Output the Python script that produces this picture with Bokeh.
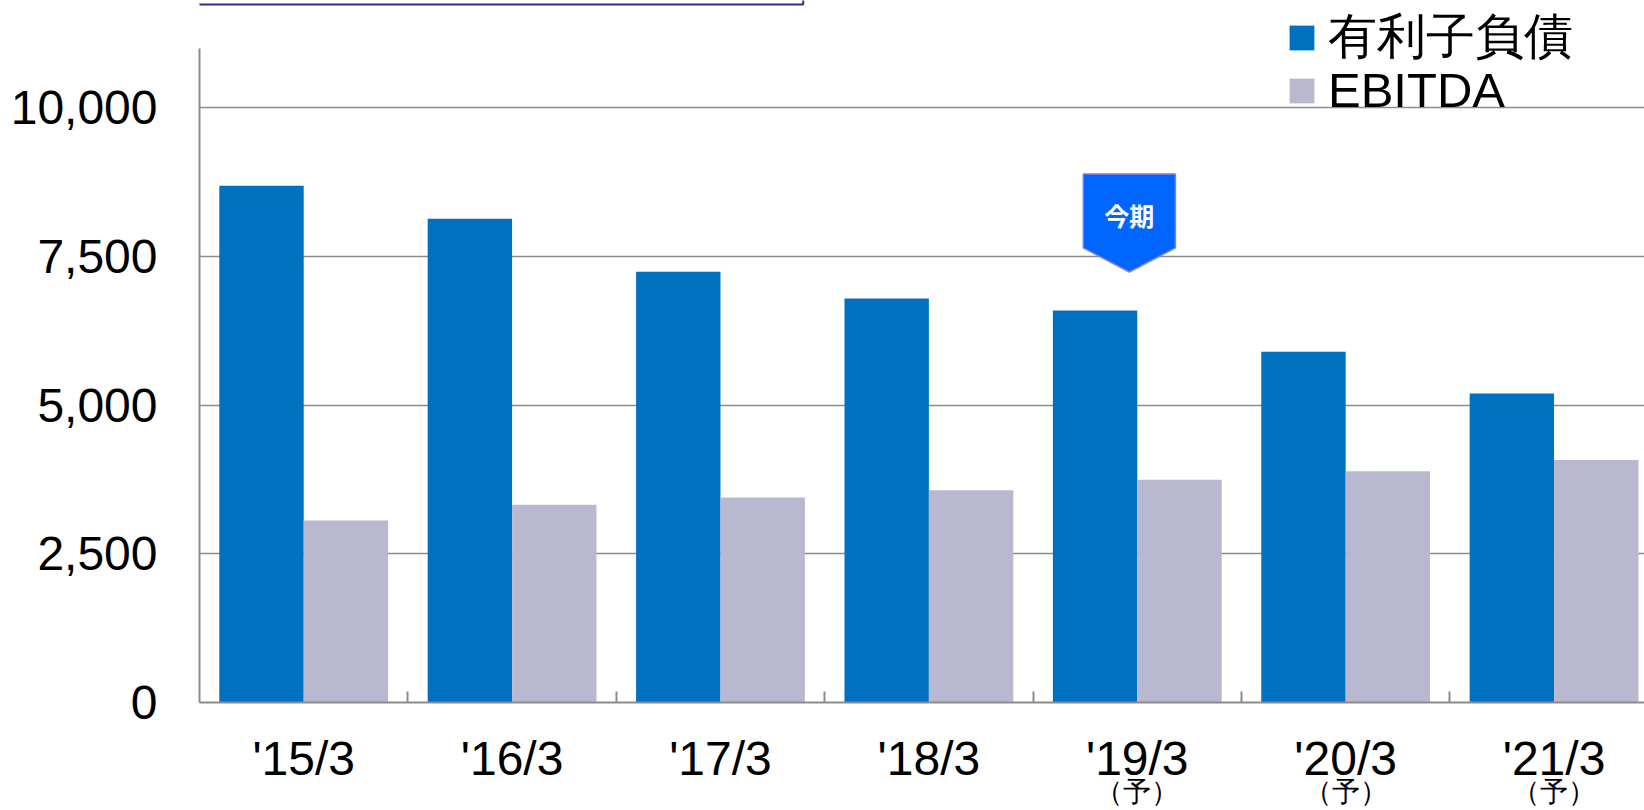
from bokeh.plotting import figure
from bokeh.models import (ColumnDataSource, Range1d, FixedTicker, NumeralTickFormatter,
                          Legend, LegendItem, Label, LinearAxis)
from bokeh.transform import dodge
from bokeh.embed import file_html
from bokeh.resources import INLINE

# ---- data ----
categories = ["'15/3", "'16/3", "'17/3", "'18/3", "'19/3", "'20/3", "'21/3"]
forecast_notes = ["", "", "", "", "（予）", "（予）", "（予）"]
debt = [8690, 8135, 7245, 6795, 6595, 5900, 5195]
ebitda = [3060, 3325, 3450, 3570, 3745, 3890, 4080]
series_names = ["有利子負債", "EBITDA"]
y_ticks = [0, 2500, 5000, 7500, 10000]
current_period = "'19/3"
current_label = "今期"

BLUE = "#0070C0"
GRAY = "#B8B8D0"
GRID = "#8C8C8C"
FONT = "Liberation Sans"

idx = list(range(len(categories)))
src = ColumnDataSource(dict(x=idx, cat=categories, debt=debt, ebitda=ebitda))

AXIS_TOP = 11000          # where the value axis line ends
Y_END = 11807             # frame reaches the top edge (room for the legend)

p = figure(width=1644, height=810, output_backend="svg", toolbar_location=None,
           x_range=Range1d(-0.5, 6.434), y_range=Range1d(0, Y_END),
           min_border_left=199, min_border_top=0, min_border_bottom=108,
           min_border_right=0)
p.outline_line_color = None
p.background_fill_color = "white"

bw = 0.405
r_debt = p.vbar(x=dodge("x", -bw / 2), top="debt", width=bw, source=src,
                fill_color=BLUE, line_color=None)
r_ebitda = p.vbar(x=dodge("x", bw / 2), top="ebitda", width=bw, source=src,
                  fill_color=GRAY, line_color=None)

# category axis
cat_ticker = FixedTicker(ticks=idx, minor_ticks=[i + 0.5 for i in idx])
p.xaxis.ticker = cat_ticker
p.xaxis.major_label_overrides = {i: c for i, c in zip(idx, categories)}
p.xaxis.major_tick_in = 0
p.xaxis.major_tick_out = 0
p.xaxis.minor_tick_in = 11
p.xaxis.minor_tick_out = 0
p.xaxis.minor_tick_line_color = GRID
p.xaxis.minor_tick_line_width = 2
p.xaxis.major_label_standoff = 29
p.xaxis.major_label_text_font = FONT
p.xaxis.major_label_text_font_size = "48px"
p.xaxis.major_label_text_color = "black"
p.xaxis.axis_line_color = GRID
p.xaxis.axis_line_width = 2

# second row of category labels: forecast notes
note_axis = LinearAxis(ticker=FixedTicker(ticks=idx),
                       major_label_overrides={i: n for i, n in zip(idx, forecast_notes)},
                       axis_line_color=None, major_tick_line_color=None,
                       minor_tick_line_color=None, major_label_standoff=-18,
                       major_label_text_font=FONT, major_label_text_font_size="28px",
                       major_label_text_color="black")
p.add_layout(note_axis, "below")

# value axis
p.yaxis.ticker = FixedTicker(ticks=y_ticks)
p.yaxis.formatter = NumeralTickFormatter(format="0,0")
p.yaxis.bounds = (0, AXIS_TOP)
p.yaxis.major_tick_in = 0
p.yaxis.major_tick_out = 0
p.yaxis.minor_tick_line_color = None
p.yaxis.major_label_standoff = 42
p.yaxis.major_label_text_font = FONT
p.yaxis.major_label_text_font_size = "48px"
p.yaxis.major_label_text_color = "black"
p.yaxis.axis_line_color = GRID
p.yaxis.axis_line_width = 2

p.xgrid.visible = False
p.ygrid.ticker = FixedTicker(ticks=y_ticks)
p.ygrid.grid_line_color = GRID
p.ygrid.grid_line_width = 1.5

# edge of the title box above the chart
p.quad(left=-1.5, right=2.397, bottom=11741, top=13000, fill_color=None,
       line_color="#2E2E88", line_width=2)

# current-period marker
ci = categories.index(current_period)
cx = ci - 0.038
half = 0.221
p.patch(x=[cx - half, cx + half, cx + half, cx, cx - half],
        y=[8890, 8890, 7645, 7241, 7645],
        fill_color="#0066FF", line_color="#8080D8", line_width=1.5)
p.add_layout(Label(x=cx, y=8200, text=current_label, text_align="center",
                   text_baseline="middle", text_color="white",
                   text_font="Noto Sans CJK JP", text_font_style="bold",
                   text_font_size="25px"))

# legend: one entry per box so each row can be placed on its own
legend_style = dict(orientation="vertical", glyph_width=31, glyph_height=31,
                    label_standoff=11, label_text_font=FONT,
                    label_text_font_size="49px", label_text_color="black",
                    label_height=76, spacing=0, padding=0, margin=0,
                    background_fill_alpha=0, border_line_color=None)
legend_debt = Legend(items=[LegendItem(label=series_names[0], renderers=[r_debt])],
                     location=(1087, 627), **legend_style)
legend_ebitda = Legend(items=[LegendItem(label=series_names[1], renderers=[r_ebitda])],
                       location=(1087, 574), **legend_style)
p.add_layout(legend_debt)
p.add_layout(legend_ebitda)

open("out.html", "w").write(file_html(p, INLINE))
